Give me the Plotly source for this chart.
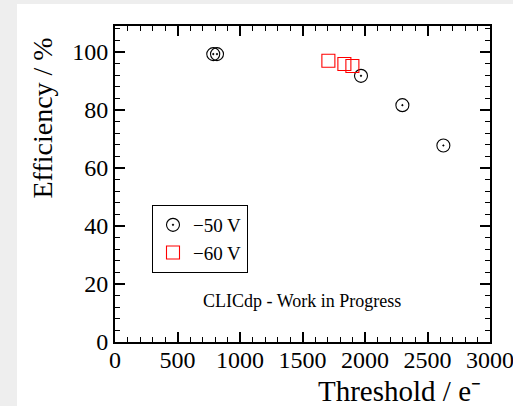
import plotly.graph_objects as go

# data
thr_50 = [786, 816, 1968, 2299, 2627]
eff_50 = [99.3, 99.3, 91.8, 81.7, 67.8]
thr_60 = [1707, 1835, 1899]
eff_60 = [97.0, 95.9, 95.2]
x_step = 500
y_step = 20

FONT = "Liberation Serif"

fig = go.Figure()
fig.add_trace(go.Scatter(x=thr_50, y=eff_50, mode="markers", name="\u221250 V",
                         marker=dict(symbol="circle-open-dot", size=13, color="black",
                                     line=dict(width=1.1, color="black"))))
fig.add_trace(go.Scatter(x=thr_60, y=eff_60, mode="markers", name="\u221260 V",
                         marker=dict(symbol="square-open", size=13, color="red",
                                     line=dict(width=1.1, color="red"))))

L, R, T, B = 115, 23, 26, 64
W, H = 513, 406
pw, ph = W - L - R, H - T - B

def px(x):
    return (x - L) / pw

def py(y):
    return (H - B - y) / ph

axis_common = dict(showline=True, linewidth=2, linecolor="black", mirror="ticks",
                   ticks="inside", ticklen=10, tickwidth=1.5, tickcolor="black",
                   showgrid=False, zeroline=False, tick0=0, automargin=False,
                   ticklabeloverflow="allow",
                   tickfont=dict(family=FONT, size=24, color="black"))

fig.update_xaxes(range=[0, 3000], dtick=x_step, ticklabelstandoff=-5, **axis_common,
                 minor=dict(dtick=x_step / 5, tick0=0, ticks="inside", ticklen=5,
                            tickwidth=1.2, tickcolor="black", showgrid=False))
fig.update_yaxes(range=[0, 109], dtick=y_step, **axis_common,
                 minor=dict(dtick=y_step / 5, tick0=0, ticks="inside", ticklen=5,
                            tickwidth=1.2, tickcolor="black", showgrid=False))

fig.update_layout(
    width=W, height=H,
    margin=dict(l=L, r=R, t=T, b=B, autoexpand=False),
    paper_bgcolor="#eeeeee", plot_bgcolor="white",
    showlegend=True,
    legend=dict(x=px(152), y=py(205), xanchor="left", yanchor="top",
                bordercolor="black", borderwidth=1, bgcolor="white",
                font=dict(family=FONT, size=19, color="black"),
                itemwidth=30, tracegroupgap=0),
    shapes=[dict(type="rect", xref="paper", yref="paper", layer="below",
                 x0=px(17), x1=px(520), y0=py(420), y1=py(4),
                 fillcolor="white", line=dict(width=0))],
    annotations=[
        dict(text="CLICdp - Work in Progress", xref="paper", yref="paper",
             x=px(302), y=py(301), xanchor="center", yanchor="middle", showarrow=False,
             font=dict(family=FONT, size=18, color="black")),
        dict(text="Threshold / e\u207b", xref="paper", yref="paper",
             x=px(483), y=py(391), xanchor="right", yanchor="middle", showarrow=False,
             font=dict(family=FONT, size=29, color="black")),
        dict(text="Efficiency / %", xref="paper", yref="paper", textangle=-90,
             x=px(42), y=py(36), xanchor="center", yanchor="top", showarrow=False,
             font=dict(family=FONT, size=28, color="black")),
    ],
)

fig.write_html("out.html")
